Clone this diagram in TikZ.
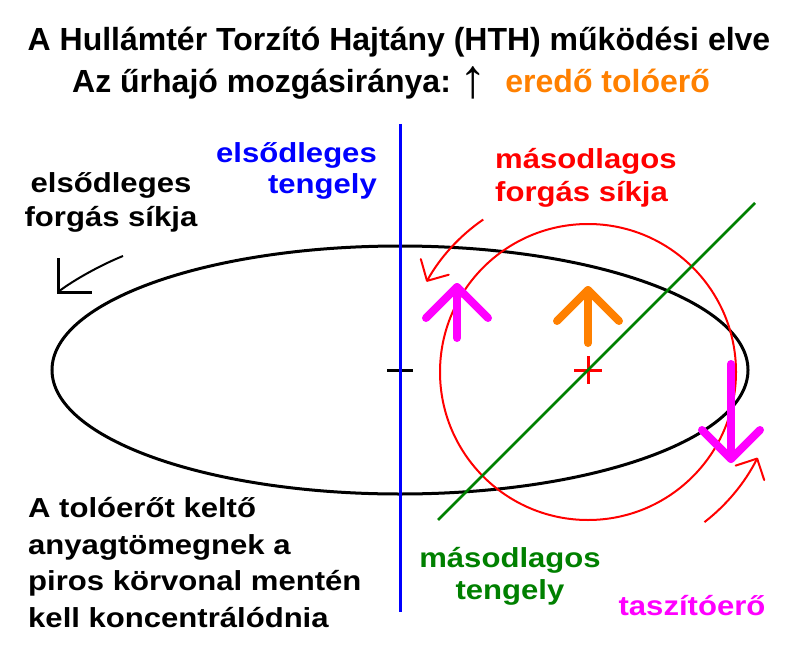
\documentclass[tikz,border=0pt]{standalone}
\usepackage{fontspec}
\setmainfont{Liberation Sans}
\newfontfamily\lbfont{Liberation Sans}[FakeStretch=1.13]
\usetikzlibrary{arrows.meta}
\definecolor{cred}{RGB}{255,0,0}
\definecolor{cblue}{RGB}{0,0,255}
\definecolor{cgreen}{RGB}{0,128,0}
\definecolor{cmag}{RGB}{255,0,255}
\definecolor{corange}{RGB}{255,128,0}
\newcommand{\lblsize}[1]{\lbfont\bfseries\fontsize{27.5}{#1}\selectfont}
\begin{document}
\begin{tikzpicture}[x=1pt,y=-1pt,
  titlefont/.style={font=\bfseries\fontsize{32}{36}\selectfont, inner sep=0pt},
  lbl/.style={font=\lblsize{33}, inner sep=0pt},
  thick3/.style={line width=3pt},
  force/.style={line width=8pt, line cap=round, line join=round},
  rotarrow/.style={cred, line width=2pt, -{Straight Barb[length=16pt, width=32pt, round]}}]
\useasboundingbox (0,0) rectangle (800,650);
% primary rotation ellipse
\draw[thick3] (400,370) ellipse [x radius=348, y radius=124];
% secondary rotation circle
\coordinate (c2) at (588,372);
\draw[cred, line width=2pt] (c2) circle [radius=148];
% rotation arrows
\draw[rotarrow] (c2) ++(-124.5:185) arc [start angle=-124.5, end angle=-150.8, radius=185];
\draw[rotarrow] (c2) ++(52.2:190) arc [start angle=52.2, end angle=26.8, radius=190];
% primary rotation arrow (left)
\draw[line width=2pt] (123,256) .. controls (103,264) and (75,279) .. (58,292);
\draw[thick3, line join=miter] (58,258) -- (58,292) -- (92,292);
% centre marks
\draw[thick3] (387,370) -- (413,370);
\draw[cred, thick3] (574,370) -- (602,370);
\draw[cred, thick3] (588,356) -- (588,384);
% secondary axis
\draw[cgreen, line width=2.5pt] (438,520) -- (755,203);
% primary axis
\draw[cblue, thick3] (400,124) -- (400,612);
% forces
\draw[force, cmag] (457,338) -- (457,287);
\draw[force, cmag] (426,318) -- (457,287) -- (488,318);
\draw[force, cmag] (731,364) -- (731,459);
\draw[force, cmag] (702,430) -- (731,459) -- (760,430);
\draw[force, corange] (588,343) -- (588,290);
\draw[force, corange] (557,321) -- (588,290) -- (619,321);
% texts
\node[titlefont, anchor=base] (title) at (399,51) {A Hullámtér Torzító Hajtány (HTH) működési elve};
\node[titlefont, anchor=base west] (motion) at (72,93) {Az űrhajó mozgásiránya:\hspace{9pt}\raisebox{-5pt}{\smash{\mdseries\fontsize{55}{55}\selectfont ↑}}\hspace{18pt}{\color{corange}eredő tolóerő}};
\node[lbl, font=\lblsize{31}, text=cblue, align=right, anchor=base east] (axis1) at (377,193) {elsődleges\\tengely};
\node[lbl, text=cred, align=left, anchor=base west] (plane2) at (495,201) {másodlagos\\forgás síkja};
\node[lbl, font=\lblsize{34}, align=center, anchor=base] (plane1) at (111,226) {elsődleges\\forgás síkja};
\node[lbl, font=\lblsize{36.5}, align=left, anchor=base west] (note) at (28,627) {A tolóerőt keltő\\anyagtömegnek a\\piros körvonal mentén\\kell koncentrálódnia};
\node[lbl, font=\lblsize{32}, text=cgreen, align=center, anchor=base] (axis2) at (510,599) {másodlagos\\tengely};
\node[lbl, text=cmag, anchor=base] (repel) at (692,615) {taszítóerő};
\end{tikzpicture}
\end{document}
